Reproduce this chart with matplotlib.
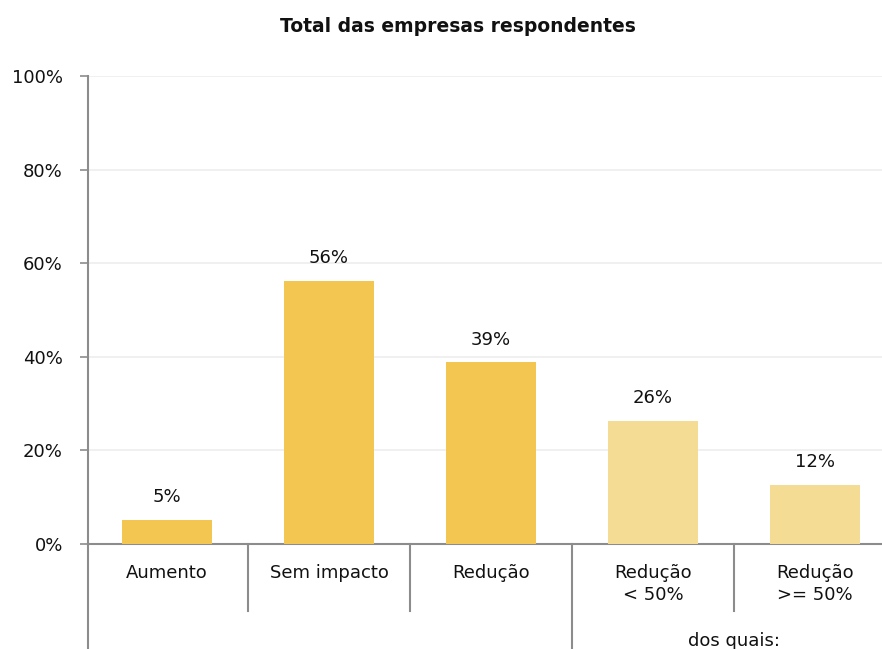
import matplotlib
matplotlib.use("Agg")
import matplotlib.pyplot as plt
import matplotlib.transforms as mtransforms

categories = ["Aumento", "Sem impacto", "Redução", "Redução\n< 50%", "Redução\n>= 50%"]
values = [5.1, 56.2, 38.8, 26.3, 12.6]
value_labels = ["5%", "56%", "39%", "26%", "12%"]
yticks = [0, 20, 40, 60, 80, 100]
ytick_labels = ["0%", "20%", "40%", "60%", "80%", "100%"]
title = "Total das empresas respondentes"
group_label = "dos quais:"

dark = "#F2C650"
light = "#F5DC94"
colors = [dark, dark, dark, light, light]
axis_gray = "#8C8C8C"

plt.rcParams['font.family'] = ['DejaVu Sans']
W, H = 882, 649
fig = plt.figure(figsize=(W / 100, H / 100), dpi=100)
left_px, right_px, top_px, bottom_px = 88, 896, 76, 544
ax = fig.add_axes([left_px / W, (H - bottom_px) / H, (right_px - left_px) / W, (bottom_px - top_px) / H])

x = list(range(len(categories)))
ax.bar(x, values, width=90 / 162, color=colors, zorder=3)
ax.set_xlim(-0.5 + 2 / 162, 4.5)
ax.set_ylim(0, 100)

ax.set_yticks(yticks)
ax.set_yticklabels(ytick_labels, fontsize=13, color="#111111")
ax.yaxis.grid(True, color="#EEEEEE", linewidth=1.2, zorder=0)
ax.set_axisbelow(True)
ax.tick_params(axis="y", length=6, width=1.2, color=axis_gray, pad=12)
ax.set_xticks([])

for s in ["top", "right"]:
    ax.spines[s].set_visible(False)
for s in ["left", "bottom"]:
    ax.spines[s].set_color(axis_gray)
    ax.spines[s].set_linewidth(1.5)

for xi, v, lab in zip(x, values, value_labels):
    ax.annotate(lab, (xi, v), xytext=(0, 10), textcoords="offset points",
                ha="center", va="bottom", fontsize=13, color="#111111")

trans = mtransforms.blended_transform_factory(ax.transData, ax.transAxes)
axh = bottom_px - top_px
for xi, cat in zip(x, categories):
    ax.text(xi, -20 / axh, cat, transform=trans, ha="center", va="top",
            fontsize=13, color="#111111", linespacing=1.3)

# separators below axis
short_y = -(611 - bottom_px) / axh
long_y = -(H + 10 - bottom_px) / axh
for sep, y2 in zip([0.5, 1.5, 2.5, 3.5], [short_y, short_y, long_y, short_y]):
    ax.plot([sep, sep], [0, y2], transform=trans, color=axis_gray, lw=1.5, clip_on=False)
# extend left axis line down
ax.plot([0, 0], [0, long_y], transform=ax.transAxes, color=axis_gray, lw=1.5, clip_on=False)

ax.text(3.5, -(641 - bottom_px) / axh, group_label, transform=trans, ha="center", va="center",
        fontsize=13, color="#111111")

fig.text(458 / W, 1 - 27 / H, title, ha="center", va="center", fontsize=13.5, fontweight="bold", color="#111111")

fig.savefig("out.png", dpi=100)
